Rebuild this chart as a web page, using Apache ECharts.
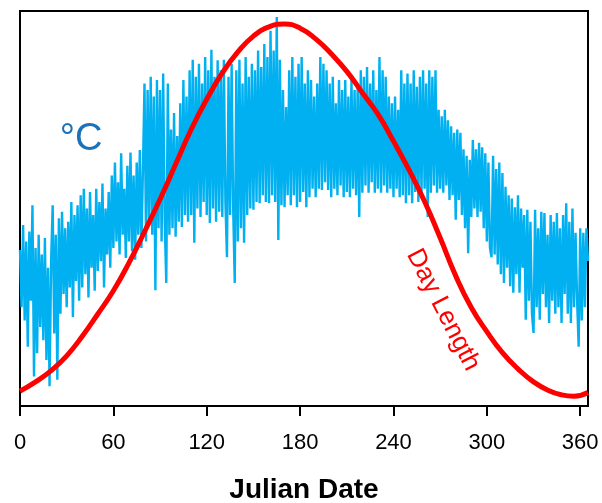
<!DOCTYPE html>
<html>
<head>
<meta charset="utf-8">
<script src="https://cdn.jsdelivr.net/npm/echarts@6/dist/echarts.min.js"></script>
<style>
html,body{margin:0;padding:0;background:#fff;}
#chart{width:602px;height:503px;}
</style>
</head>
<body>
<div id="chart"></div>
<script>
// X-axis tick labels (Julian date)
var xTicks = [0, 60, 120, 180, 240, 300, 360];

// Daily temperature (°C), day 0..365
var tempValues = [
  3.7, -5, 7.5, -7, 5, -11, 6.5, -4, 10.5, -15.5,
  4, -12, 6, -8, 3, -10, 5.5, -13, 1, -17,
  2, 10.5, -9, 6, -16, 8.5, -6, 9.5, -3, 7,
  -5, 8, -2, 11, -6.5, 9, -1, 10.5, -4, 12,
  -2, 13, 0, 10, -3.5, 12.5, 1, 9, -2.5, 13,
  0.5, 11, 2, 13.8, -2, 10, 3, 12.5, 1, 15,
  4, 17, 5, 14, 3, 18.4, 6, 13, 2.5, 16.5,
  5, 18.5, 3.5, 15, 2.2, 17, 6, 18.9, 4, 16,
  29, 5, 28, 8, 30, 6, 27, -2.4, 29.5, 7,
  28, 5, 30.5, 8, -1.3, 29, 6, 22, 7, 24.5,
  5.7, 21, 8, 26, 7.2, 29.5, 9, 27, 8, 31,
  9, 32.6, 4.8, 30, 10, 32, 8.7, 29, 11, 33,
  9, 31, 7.8, 34.1, 10, 30, 8, 32.5, 9.5, 31,
  8.7, 32.6, 11, 2.6, 30, 9, 32, 10, -1.3, 31,
  5, 32.6, 7, 29, 4.8, 33, 9, 30, 10, 32,
  9.8, 31, 11, 34, 10.8, 31.5, 12, 35, 11, 33,
  10.8, 37, 12, 34, 11, 39.1, 5.2, 32.6, 10.5, 28,
  10.2, 25.4, 12, 31, 10.5, 33, 12, 30, 10.2, 32,
  11, 33, 12.5, 29, 10.2, 31, 11.7, 29.5, 13, 27,
  11.7, 29, 13, 33, 12.8, 32, 14, 31, 12.8, 29,
  11.7, 30, 13, 26, 12, 29.5, 13.5, 28, 11.7, 29.5,
  12.5, 27, 11.7, 29.5, 13, 28, 12, 29, 8.7, 31,
  12.4, 30, 13.5, 31.5, 12.4, 29, 14, 31, 12.4, 28,
  13, 33, 12.4, 31, 13.5, 30, 12.4, 27, 13, 26,
  11.7, 27, 13, 25, 11.7, 31, 12, 29, 10.8, 30.5,
  12, 29, 10.8, 31, 12.5, 28.5, 11, 30, 12.4, 31,
  13, 29, 8.7, 31, 12.4, 30, 13.5, 31, 12.4, 25,
  13, 24, 12.4, 25, 13.5, 23.4, 11.3, 22.5, 12, 21.5,
  8.3, 22, 11.3, 21.5, 9, 19, 7, 18, 3.2, 17.4,
  8.7, 20.4, 10, 19, 8.7, 20, 9.5, 19.3, 7, 18.4,
  5, 17, 4, 2.6, 18, 3, 16, 1.5, 17, 0,
  15.4, -1.3, 13.3, 1, 12, -1.8, 11.5, -2.8, 10.2, 0,
  12, -2.8, 10, 1, 9, -6.9, 9.8, -4, 8, -6,
  -8.9, 9.8, -5, 7, -6.9, 9.5, -3, 9.3, -5, 6,
  -7.4, 9, -4, 8, -6, 9.3, -5, 7, -7.4, 9,
  -3, 10.8, -6, 8, -7.4, 10, -5, 6.3, -4, -11,
  7, -7, 6.3, -5, 7, 2
];

// Day length (hours)
var dayLenDays  = [0, 10, 20, 30, 40, 50, 60, 70, 80, 90, 100, 110, 120, 130, 140, 150, 160, 170, 180, 190, 200, 210, 220, 230, 240, 250, 260, 270, 280, 290, 300, 310, 320, 330, 340, 348, 356, 365];
var dayLenHours = [8.32, 8.52, 8.76, 9.08, 9.50, 9.98, 10.48, 11.08, 11.75, 12.45, 13.20, 13.95, 14.60, 15.17, 15.62, 15.96, 16.16, 16.22, 16.13, 15.90, 15.58, 15.20, 14.74, 14.28, 13.70, 13.08, 12.40, 11.62, 10.80, 10.12, 9.60, 9.15, 8.80, 8.52, 8.33, 8.24, 8.21, 8.29];

var tempData = tempValues.map(function (v, i) { return [i, v]; });
var dayLenData = dayLenDays.map(function (d, i) { return [d, dayLenHours[i]]; });

var chart = echarts.init(document.getElementById('chart'), null, {renderer: 'canvas'});
chart.setOption({
  animation: false,
  backgroundColor: '#fff',
  grid: {
    left: 20, top: 11, width: 568, height: 395,
    outerBoundsMode: 'none', containLabel: false,
    show: true, borderColor: '#000', borderWidth: 2, backgroundColor: 'transparent'
  },
  xAxis: {
    type: 'value', min: 0, max: 365, interval: 60,
    name: 'Julian Date', nameLocation: 'middle', nameGap: 70,
    nameTextStyle: {fontFamily: 'Liberation Sans, Arial, sans-serif', fontSize: 28, fontWeight: 'bold', color: '#000'},
    axisLine: {show: true, onZero: false, lineStyle: {color: '#000', width: 2}},
    axisTick: {show: true, length: 10, lineStyle: {color: '#000', width: 2}, customValues: xTicks},
    axisLabel: {margin: 26, fontFamily: 'Liberation Sans, Arial, sans-serif', fontSize: 22, color: '#000', customValues: xTicks},
    splitLine: {show: false}
  },
  yAxis: [
    {type: 'value', min: -20, max: 40, show: false, splitLine: {show: false}},
    {type: 'value', min: 8, max: 16.5, show: false, splitLine: {show: false}}
  ],
  series: [
    {
      name: '°C', type: 'line', data: tempData, yAxisIndex: 0,
      showSymbol: false, symbol: 'none',
      lineStyle: {color: '#00b0f0', width: 2.4, join: 'miter'}
    },
    {
      name: 'Day Length', type: 'line', data: dayLenData, yAxisIndex: 1,
      showSymbol: false, symbol: 'none', smooth: true,
      lineStyle: {color: '#ff0000', width: 5}
    }
  ],
  graphic: [
    {type: 'text', x: 81, y: 140,
     style: {text: '°C', fill: '#1c72b8', font: '38px "Liberation Sans", Arial, sans-serif', textAlign: 'center', textVerticalAlign: 'middle'}},
    {type: 'text', x: 443, y: 310, rotation: -63 * Math.PI / 180,
     style: {text: 'Day Length', fill: '#ff0000', font: '26px "Liberation Sans", Arial, sans-serif', textAlign: 'center', textVerticalAlign: 'middle'}}
  ]
});
</script>
</body>
</html>
